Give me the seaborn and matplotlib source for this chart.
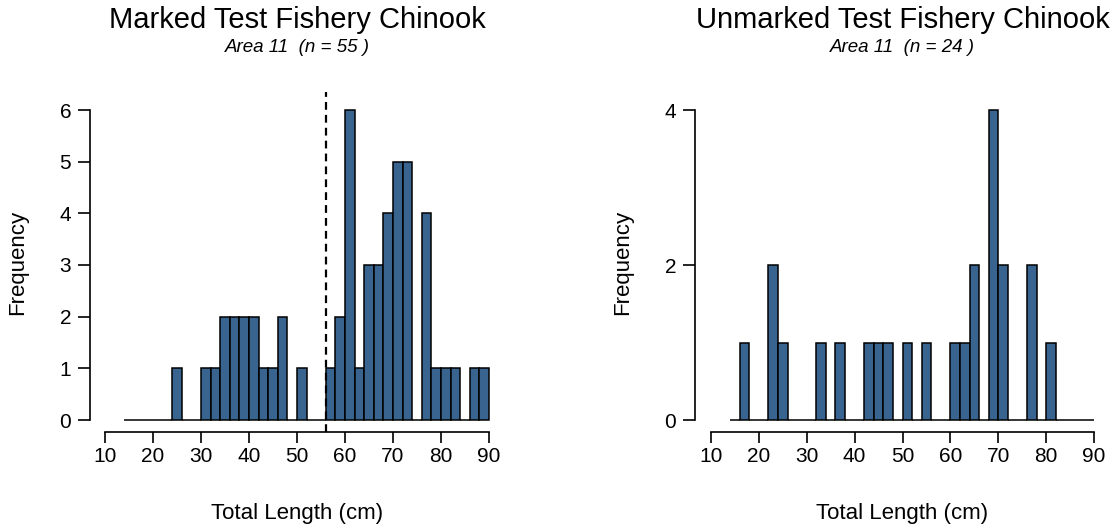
import numpy as np
import pandas as pd
import matplotlib
matplotlib.use("Agg")
import matplotlib.pyplot as plt
import seaborn as sns

# 2 cm length bins, 14 - 90 cm
bin_edges = list(range(14, 92, 2))
bin_mids = [e + 1 for e in bin_edges[:-1]]

marked_counts = [0, 0, 0, 0, 0, 1, 0, 0, 1, 1, 2, 2, 2, 2, 1, 1, 2, 0, 1, 0,
                 0, 1, 2, 6, 1, 3, 3, 4, 5, 5, 0, 4, 1, 1, 1, 0, 1, 1]
unmarked_counts = [0, 1, 0, 0, 2, 1, 0, 0, 0, 1, 0, 1, 0, 0, 1, 1, 1, 0, 1, 0,
                   1, 0, 0, 1, 1, 2, 0, 4, 2, 0, 0, 2, 0, 1, 0, 0, 0, 0]
cutoff_length = 56

titles = ["Marked Test Fishery Chinook", "Unmarked Test Fishery Chinook"]
subtitles = ["Area 11  (n = 55 )", "Area 11  (n = 24 )"]
y_ticks = [[0, 1, 2, 3, 4, 5, 6], [0, 2, 4]]
x_ticks = [10, 20, 30, 40, 50, 60, 70, 80, 90]

sns.set_style("ticks")
plt.rcParams["font.family"] = ["Liberation Sans", "DejaVu Sans"]
plt.rcParams["text.color"] = "black"
plt.rcParams["axes.labelcolor"] = "black"
plt.rcParams["xtick.color"] = "black"
plt.rcParams["ytick.color"] = "black"
plt.rcParams["axes.edgecolor"] = "black"

W, H = 1114, 529
fig = plt.figure(figsize=(W / 100, H / 100), dpi=100)

bar_color = "#39648F"

# panel layout in pixels: (spine x, x10 px, x90 px, y0 px, ymax px, ymax value)
panels = [
    (90, 105, 489, 420, 110, 6),
    (695, 711, 1094, 420, 110, 4),
]

for i, counts in enumerate([marked_counts, unmarked_counts]):
    spine_x, x10, x90, y0, ytop, ymaxv = panels[i]
    pxcm = (x90 - x10) / 80.0
    pxy = (y0 - ytop) / float(ymaxv)
    left_px, right_px = spine_x, x90 + 10
    bottom_px, top_px = 432, 92
    wpx = right_px - left_px
    hpx = bottom_px - top_px
    ax = fig.add_axes([left_px / W, 1 - bottom_px / H, wpx / W, hpx / H])
    df = pd.DataFrame({"length": bin_mids, "count": counts})
    sns.histplot(data=df, x="length", weights="count", bins=bin_edges,
                 color=bar_color, alpha=1, edgecolor="black", linewidth=1.1, ax=ax)
    ax.set_xlim(10 + (left_px - x10) / pxcm, 10 + (right_px - x10) / pxcm)
    ax.set_ylim((y0 - bottom_px) / pxy, (y0 - top_px) / pxy)
    if i == 0:
        ax.axvline(cutoff_length, color="black", linestyle=(0, (3.5, 2.3)), linewidth=1.6)

    sns.despine(ax=ax)
    ax.spines["left"].set_bounds(0, ymaxv)
    ax.spines["bottom"].set_bounds(10, 90)
    for s in ["left", "bottom"]:
        ax.spines[s].set_linewidth(1.2)
    ax.set_xticks(x_ticks)
    ax.set_yticks(y_ticks[i])
    ax.tick_params(axis="x", length=8, width=1.2, pad=3, labelsize=15)
    ax.tick_params(axis="y", length=8.5, width=1.2, pad=5, labelsize=15)
    ax.set_xlabel("Total Length (cm)", fontsize=16)
    ax.set_ylabel("Frequency", fontsize=16)
    ax.xaxis.set_label_coords(((x10 + x90) / 2 - left_px) / wpx,
                              -(513 - bottom_px) / hpx)
    ax.xaxis.label.set_va("center")
    ax.yaxis.set_label_coords(-72 / wpx, (bottom_px - 262) / hpx)
    ax.yaxis.label.set_va("center")

    cx = (x10 + x90) / 2 / W
    fig.text(cx, 1 - 20 / H, titles[i], ha="center", va="center", fontsize=21)
    fig.text(cx, 1 - 48 / H, subtitles[i], ha="center", va="center", fontsize=13.5,
             style="italic")

fig.savefig("out.png", dpi=100)
